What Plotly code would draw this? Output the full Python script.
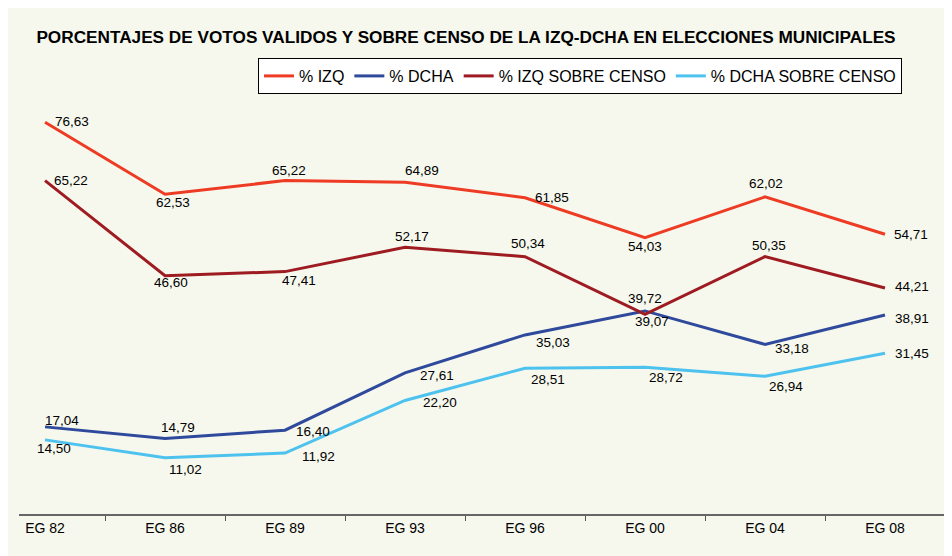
import plotly.graph_objects as go

categories = ["EG 82", "EG 86", "EG 89", "EG 93", "EG 96", "EG 00", "EG 04", "EG 08"]
izq = [76.63, 62.53, 65.22, 64.89, 61.85, 54.03, 62.02, 54.71]
dcha = [17.04, 14.79, 16.40, 27.61, 35.03, 39.72, 33.18, 38.91]
izq_censo = [65.22, 46.60, 47.41, 52.17, 50.34, 39.07, 50.35, 44.21]
dcha_censo = [14.50, 11.02, 11.92, 22.20, 28.51, 28.72, 26.94, 31.45]

names = ["% IZQ", "% DCHA", "% IZQ SOBRE CENSO", "% DCHA SOBRE CENSO"]
colors = ["#EE3B24", "#2F4A9C", "#9E1B22", "#4EC2EE"]

# label offsets (pixels: dx right, dy down) of each data label centre from its point
label_offsets = [
    [(27, -1), (8, 8), (4, -10), (17, -12), (27, 0), (0, 9), (1, -13), (26, 0)],
    [(17, -6), (13, -11), (28, 1), (32, 3), (28, 8), (0, -12), (27, 4), (27, 3)],
    [(26, 0), (6, 7), (14, 9), (7, -11), (3, -13), (7, 7), (4, -11), (27, -1)],
    [(9, 9), (20, 12), (33, 3), (35, 2), (23, 11), (21, 10), (21, 10), (27, 0)],
]

series = [izq, dcha, izq_censo, dcha_censo]

# the page body has an 8px margin; the figure sits at (8, 8)
OFF = 8
W, H = 952 - OFF, 556 - OFF
ML, MR, MT, MB = 19 - OFF, 7, 105 - OFF, 42
PW, PH = W - ML - MR, H - MT - MB
BG = "#F6F8ED"
FONT = "Liberation Sans, Arial, sans-serif"


def px_x(p):
    return (p - OFF - ML) / PW


def px_y(p):
    return (H - MB - (p - OFF)) / PH


fig = go.Figure()
for name, vals, col in zip(names, series, colors):
    fig.add_trace(go.Scatter(
        x=categories, y=vals, name=name, mode="lines",
        line=dict(color=col, width=3), hoverinfo="skip",
    ))

annotations = []
for vals, offs in zip(series, label_offsets):
    for cat, v, (dx, dy) in zip(categories, vals, offs):
        annotations.append(dict(
            x=cat, y=v, xref="x", yref="y", text=f"{v:.2f}".replace(".", ","),
            showarrow=False, xshift=dx, yshift=-dy,
            font=dict(family=FONT, size=13.5, color="#000000"),
            xanchor="center", yanchor="middle",
        ))

fig.update_layout(
    width=W, height=H,
    margin=dict(l=ML, r=MR, t=MT, b=MB, pad=0),
    paper_bgcolor=BG,
    plot_bgcolor=BG,
    showlegend=True,
    title=dict(
        text="<b>PORCENTAJES DE VOTOS VALIDOS Y SOBRE CENSO DE LA IZQ-DCHA EN ELECCIONES MUNICIPALES</b>",
        x=(466 - OFF) / W, xref="container", xanchor="center",
        y=1 - (37 - OFF) / H, yref="container", yanchor="middle",
        font=dict(family=FONT, size=17.2, color="#000000"),
    ),
    legend=dict(
        orientation="h", x=px_x(902), xanchor="right", y=px_y(58), yanchor="top",
        bgcolor="#FFFFFF", bordercolor="#000000", borderwidth=1,
        font=dict(family=FONT, size=16, color="#000000"),
        itemwidth=30, tracegroupgap=0,
    ),
    xaxis=dict(
        type="category", categoryorder="array", categoryarray=categories,
        range=[-0.217, 7.5], tickson="boundaries", ticks="outside", ticklen=5,
        tickcolor="#555555", tickwidth=1, showline=True, linecolor="#666666", linewidth=2,
        showgrid=False, zeroline=False,
        tickfont=dict(family=FONT, size=14, color="#000000"),
        fixedrange=True,
    ),
    yaxis=dict(range=[0, 80], visible=False, showgrid=False, zeroline=False, fixedrange=True),
    annotations=annotations,
)

fig.write_html("out.html")
